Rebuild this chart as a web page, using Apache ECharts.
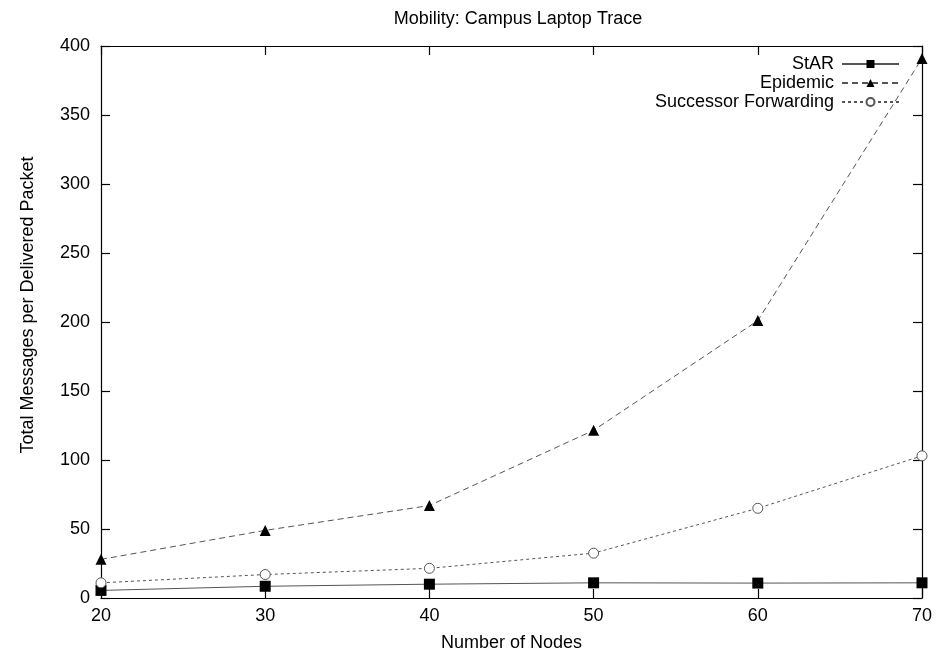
<!DOCTYPE html>
<html>
<head>
<meta charset="utf-8">
<script src="https://cdn.jsdelivr.net/npm/echarts@6/dist/echarts.min.js"></script>
<style>html,body{margin:0;padding:0;background:#fff}#c{width:937px;height:651px}</style>
</head>
<body>
<div id="c"></div>
<script>
var nodes = [20, 30, 40, 50, 60, 70];
var starVals = [5.5, 8.5, 10, 11, 10.8, 11];
var epidemicVals = [28, 49, 67, 121.5, 201, 391];
var successorVals = [11, 17, 21.5, 32.5, 65, 103];
var seriesNames = ['StAR', 'Epidemic', 'Successor Forwarding'];

function pairs(vals) { return nodes.map(function (n, i) { return [n, vals[i]]; }); }

var FONT = 'Liberation Sans, Arial, sans-serif';
var FS = 18;
var chart = echarts.init(document.getElementById('c'), null, { renderer: 'canvas' });

function axisCommon(show, margin) {
  return {
    axisLine: { show: true, onZero: false, lineStyle: { color: '#000', width: 1.2 } },
    axisTick: { show: true, inside: true, length: 9, lineStyle: { color: '#000', width: 1.2 } },
    splitLine: { show: false },
    axisLabel: { show: show, margin: margin, color: '#000', fontFamily: FONT, fontSize: FS }
  };
}

var legendTops = [55, 74, 93];

var option = {
  backgroundColor: '#fff',
  animation: false,
  title: {
    text: 'Mobility: Campus Laptop Trace',
    left: 513, textAlign: 'center', top: 5,
    textStyle: { color: '#000', fontFamily: FONT, fontSize: 18, fontWeight: 'normal' }
  },
  legend: seriesNames.map(function (name, i) {
    return {
      data: [name], right: 37, top: legendTops[i], align: 'right', orient: 'vertical',
      itemWidth: 57, itemHeight: 10, itemGap: 0, padding: 0,
      textStyle: { color: '#000', fontFamily: FONT, fontSize: FS, padding: [0, 3, 0, 0] },
      selectedMode: false
    };
  }),
  grid: { left: 101, right: 15, top: 46, bottom: 53, containLabel: false, outerBoundsMode: 'none' },
  xAxis: [
    Object.assign(axisCommon(true, 9), {
      type: 'value', min: 20, max: 70, interval: 10, position: 'bottom',
      name: 'Number of Nodes', nameLocation: 'middle', nameGap: 36,
      nameTextStyle: { color: '#000', fontFamily: FONT, fontSize: FS }
    }),
    Object.assign(axisCommon(false, 8), { type: 'value', min: 20, max: 70, interval: 10, position: 'top' })
  ],
  yAxis: [
    Object.assign(axisCommon(true, 11), {
      type: 'value', min: 0, max: 400, interval: 50, position: 'left',
      name: 'Total Messages per Delivered Packet', nameLocation: 'middle', nameGap: 64,
      nameTextStyle: { color: '#000', fontFamily: FONT, fontSize: FS, padding: [0, 0, 0, 34] }
    }),
    Object.assign(axisCommon(false, 8), { type: 'value', min: 0, max: 400, interval: 50, position: 'right' })
  ],
  series: [
    {
      name: seriesNames[0], type: 'line', data: pairs(starVals),
      symbol: 'rect', symbolSize: 11,
      lineStyle: { color: '#555', width: 1, type: 'solid' },
      itemStyle: { color: '#000', borderWidth: 0 }
    },
    {
      name: seriesNames[1], type: 'line', data: pairs(epidemicVals),
      symbol: 'triangle', symbolSize: 11,
      lineStyle: { color: '#555', width: 1, type: [6, 4] },
      itemStyle: { color: '#000', borderWidth: 0 }
    },
    {
      name: seriesNames[2], type: 'line', data: pairs(successorVals),
      symbol: 'circle', symbolSize: 10,
      lineStyle: { color: '#555', width: 1, type: [3, 3] },
      itemStyle: { color: '#fff', borderColor: '#555', borderWidth: 1 }
    }
  ]
};
chart.setOption(option);
</script>
</body>
</html>
